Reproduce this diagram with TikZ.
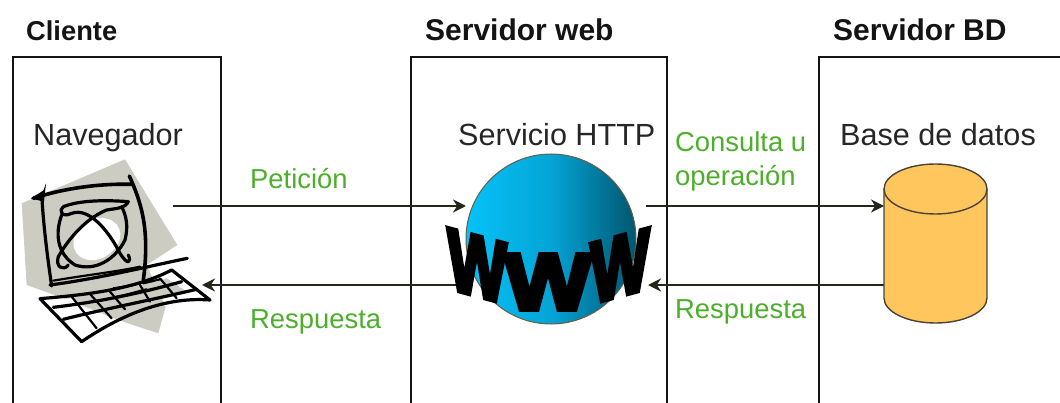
\documentclass[tikz,border=0pt]{standalone}
\usepackage{fontspec}
\setmainfont{Liberation Sans}
\newfontfamily\wwwfont[FakeBold=6]{Liberation Sans Bold}
\usetikzlibrary{arrows.meta}
\definecolor{labelgreen}{HTML}{4DAE2C}
\definecolor{linedark}{HTML}{25251A}
\definecolor{pcgrey}{HTML}{CCCCC2}
\definecolor{dbfill}{HTML}{FFC65E}
\definecolor{dbline}{HTML}{4A4436}
\definecolor{sphL}{HTML}{06C2F8}
\definecolor{sphM}{HTML}{04A4D6}
\definecolor{sphR}{HTML}{00566F}
\tikzset{
  boxline/.style={draw=black!92,line width=2.7pt},
  head/.style={anchor=base west,inner sep=0pt,font=\fontsize{27.3}{30}\selectfont\bfseries,text=black!92},
  headw/.style={head,font=\fontsize{30}{32}\selectfont\bfseries},
  title/.style={anchor=base west,inner sep=0pt,font=\fontsize{30.6}{32}\selectfont,text=black!85},
  msg/.style={anchor=base west,inner sep=0pt,font=\fontsize{27.4}{30}\selectfont,text=labelgreen},
  flow/.style={draw=linedark,line width=2.2pt,-{Stealth[length=13pt,width=13pt]}},
  ink/.style={draw=black,line width=3.2pt,line cap=round,line join=round},
  thin ink/.style={draw=black,line width=2.2pt,line cap=round,line join=round},
  bigw/.style={inner sep=0pt,text=black,font=\wwwfont\fontsize{80}{80}\selectfont}
}
\begin{document}
\begin{tikzpicture}[x=1pt,y=-1pt]
\useasboundingbox (0,0) rectangle (1060,403);
% boxes
\draw[boxline] (13,403) -- (13,57) -- (221,57) -- (221,403);
\draw[boxline] (411,403) -- (411,57) -- (667,57) -- (667,403);
\draw[boxline] (819,403) -- (819,57) -- (1060,57);
% headings
\node[head] (hc) at (26,41) {Cliente};
\node[headw] (hw) at (425,41) {Servidor web};
\node[headw] (hb) at (833,41) {Servidor BD};
\node[title] (tn) at (33,146) {Navegador};
\node[title] (ts) at (458,146) {Servicio HTTP};
\node[title] (td) at (840,146) {Base de datos};
% anchors for connectors
\coordinate (pcout) at (173,206);
\coordinate (pcin) at (202,285);
\coordinate (wwwinL) at (466,206);
\coordinate (wwwoutL) at (470,285);
\coordinate (wwwoutR) at (646,206);
\coordinate (wwwinR) at (648,285);
\coordinate (dbin) at (884,206);
\coordinate (dbout) at (885,285);
\draw[flow] (pcout) -- (wwwinL);
\draw[flow] (wwwoutL) -- (pcin);
\draw[flow] (wwwoutR) -- (dbin);
\draw[flow] (dbout) -- (wwwinR);
% computer
\begin{scope}[shift={(0,150)},x=0.33333pt,y=-0.33333pt]
\fill[pcgrey] (375,28) -- (135,130) -- (65,160) -- (80,405) -- (205,450) -- (360,512) -- (475,550) -- (497,470) -- (440,345) -- (532,285) -- cycle;
% globe
\fill[white] (285,205) .. controls (345,195) and (375,240) .. (355,280) .. controls (330,325) and (275,345) .. (240,320) .. controls (205,295) and (215,225) .. (285,205) -- cycle;
\draw[ink] (185,195) .. controls (165,250) and (170,310) .. (225,345) .. controls (285,365) and (345,330) .. (375,270) .. controls (385,230) and (380,200) .. (365,170);
\draw[ink] (190,170) .. controls (240,150) and (320,150) .. (385,155) .. controls (375,175) and (350,175) .. (320,180) .. controls (270,200) and (215,250) .. (175,320) .. controls (165,350) and (190,365) .. (205,345);
\draw[ink] (190,170) .. controls (175,180) and (185,205) .. (215,190) .. controls (270,170) and (330,250) .. (360,310) .. controls (385,350) and (395,335) .. (385,315);
% monitor
\draw[ink,line width=3.6pt] (100,145) .. controls (190,115) and (300,100) .. (395,103);
\fill[black] (92,145) -- (130,122) -- (138,100) -- (132,155) -- cycle;
\draw[ink] (125,130) .. controls (130,230) and (145,340) .. (155,408);
\draw[ink,line width=3.6pt] (388,78) .. controls (425,160) and (450,240) .. (430,390);
\draw[ink] (150,405) .. controls (300,385) and (440,350) .. (562,325);
\draw[thin ink] (160,392) .. controls (260,375) and (350,365) .. (420,350);
% keyboard keys
\fill[white] (160,450) -- (215,445) -- (230,462) -- (180,470) -- cycle;
\fill[white] (192,482) -- (245,472) -- (260,490) -- (212,505) -- cycle;
\fill[white] (222,518) -- (270,502) -- (285,518) -- (245,545) -- cycle;
\fill[white] (280,496) -- (305,488) -- (318,505) -- (295,515) -- cycle;
\fill[white] (540,422) -- (585,418) -- (610,440) -- (560,438) -- cycle;
\fill[white] (495,375) -- (530,372) -- (540,392) -- (505,395) -- cycle;
\fill[pcgrey] (225,445) -- (410,415) -- (500,385) -- (560,425) -- (330,480) -- (300,490) -- cycle;
% keyboard outline
\draw[ink] (120,446) .. controls (250,435) and (400,420) .. (515,360) -- (630,450) .. controls (500,440) and (370,490) .. (245,575) -- cycle;
\draw[thin ink] (215,440) -- (290,535);
\draw[thin ink] (270,432) -- (335,505);
\draw[thin ink] (330,425) -- (375,478);
\draw[thin ink] (420,405) -- (450,455);
\draw[thin ink] (480,385) -- (530,445);
\draw[ink] (160,472) .. controls (300,455) and (420,430) .. (545,395);
\draw[ink] (190,508) .. controls (300,480) and (430,455) .. (590,418);
\draw[thin ink] (340,415) .. controls (380,410) and (400,405) .. (425,398);
\draw[thin ink] (350,440) .. controls (380,435) and (410,425) .. (440,418);
\draw[thin ink] (430,400) -- (480,388);
\end{scope}
% sphere
\begin{scope}
\clip (551,239) circle (85);
\shade[left color=sphL,right color=sphR,middle color=sphM] (466,154) rectangle (636,324);
\end{scope}
\node[circle,draw=black!70!yellow,line width=1pt,minimum size=170pt,inner sep=0pt] (www) at (551,239) {};
% WWW
\node[bigw,yslant=-0.27,xscale=0.78,yscale=1.08] (w1) at (477,266) {W};
\node[bigw,xscale=1.14,yscale=1.0] (w2) at (548,282) {W};
\node[bigw,yslant=0.27,xscale=0.78,yscale=1.08] (w3) at (620,266) {W};
% cylinder
\draw[draw=dbline,fill=dbfill,line width=1.4pt] (884,189) -- (884,298) arc[start angle=180,end angle=0,x radius=51.5,y radius=25] -- (987,189);
\draw[draw=dbline,fill=dbfill,line width=1.4pt] (935.5,189) ellipse (51.5 and 25);
% green labels
\node[msg] (m1) at (250,189) {Petición};
\node[msg] (m2) at (250,328) {Respuesta};
\node[msg] (m3) at (675,152) {Consulta u};
\node[msg] (m4) at (675,186) {operación};
\node[msg] (m5) at (675,319) {Respuesta};
\end{tikzpicture}
\end{document}
